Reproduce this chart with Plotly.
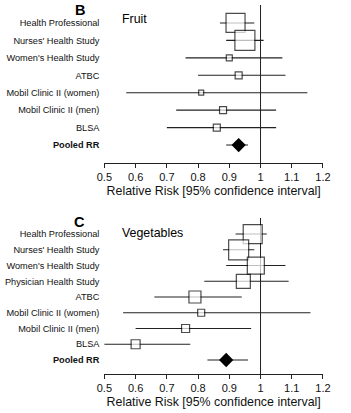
import plotly.graph_objects as go

W, H = 351, 413

# ---------------- data ----------------
fruit_studies = ["Health Professional", "Nurses' Health Study", "Women's Health Study", "ATBC",
                 "Mobil Clinic II (women)", "Mobil Clinic II (men)", "BLSA"]
fruit_rr = [0.92, 0.95, 0.90, 0.93, 0.81, 0.88, 0.86]
fruit_lo = [0.87, 0.89, 0.76, 0.80, 0.57, 0.73, 0.70]
fruit_hi = [0.98, 1.01, 1.07, 1.08, 1.15, 1.05, 1.05]
fruit_pooled = (0.93, 0.89, 0.96)

veg_studies = ["Health Professional", "Nurses' Health Study", "Women's Health Study", "Physician Health Study",
               "ATBC", "Mobil Clinic II (women)", "Mobil Clinic II (men)", "BLSA"]
veg_rr = [0.975, 0.93, 0.985, 0.945, 0.79, 0.81, 0.76, 0.60]
veg_lo = [0.92, 0.88, 0.89, 0.82, 0.66, 0.56, 0.60, 0.475]
veg_hi = [1.02, 0.98, 1.08, 1.09, 0.94, 1.16, 0.97, 0.775]
veg_pooled = (0.89, 0.83, 0.96)

x_ticks = [0.5, 0.6, 0.7, 0.8, 0.9, 1.0, 1.1, 1.2]
x_ticklabels = ["0.5", "0.6", "0.7", "0.8", "0.9", "1", "1.1", "1.2"]

# marker (box) sizes in px, proportional to study weight
fruit_box_px = [19, 20, 6, 7, 5, 7, 7]
veg_box_px = [19, 20, 17, 14, 12, 7, 8, 9]

FONT = "Liberation Sans, Arial, sans-serif"
LINE = "#222222"
TXT = "#111111"

fig = go.Figure()


def add_panel(studies, rr, lo, hi, pooled, sizes, xa, ya):
    n = len(studies)
    ys = list(range(n))
    fig.add_trace(go.Scatter(
        x=rr, y=ys, mode="markers", xaxis=xa, yaxis=ya, showlegend=False,
        marker=dict(symbol="square", size=sizes, color="white",
                    line=dict(color="black", width=1.2)),
        error_x=dict(type="data", symmetric=False,
                     array=[h - r for h, r in zip(hi, rr)],
                     arrayminus=[r - l for r, l in zip(rr, lo)],
                     width=0, thickness=1.1, color=LINE),
    ))
    p, pl, ph = pooled
    fig.add_trace(go.Scatter(
        x=[p], y=[n], mode="markers", xaxis=xa, yaxis=ya, showlegend=False,
        marker=dict(symbol="diamond", size=11, color="black", line=dict(width=0)),
        error_x=dict(type="data", symmetric=False, array=[ph - p], arrayminus=[p - pl],
                     width=0, thickness=1.1, color=LINE),
    ))
    return n


n1 = add_panel(fruit_studies, fruit_rr, fruit_lo, fruit_hi, fruit_pooled, fruit_box_px, "x", "y")
n2 = add_panel(veg_studies, veg_rr, veg_lo, veg_hi, veg_pooled, veg_box_px, "x2", "y2")

xdom = [101 / W, 330 / W]


def xaxis_cfg():
    return dict(domain=xdom, range=[0.5, 1.2], tickvals=x_ticks, ticktext=x_ticklabels,
                showgrid=False, zeroline=False, showline=True, linecolor=LINE, linewidth=1,
                ticks="outside", ticklen=4, tickcolor=LINE, tickwidth=1,
                tickfont=dict(family=FONT, size=11, color=TXT),
                title=dict(text="Relative Risk [95% confidence interval]",
                           font=dict(family=FONT, size=12.4, color=TXT), standoff=4))


def yaxis_cfg(labels, dom, rng):
    n = len(labels)
    return dict(domain=dom, range=rng, tickvals=list(range(n + 1)),
                ticktext=labels + ["<b>Pooled RR</b>"], showgrid=False, zeroline=False,
                showline=False, ticks="", ticklabelstandoff=4,
                tickfont=dict(family=FONT, size=9.2, color=TXT))


fig.update_layout(
    width=W, height=H, margin=dict(l=0, r=0, t=0, b=0),
    paper_bgcolor="white", plot_bgcolor="white",
    xaxis=dict(**xaxis_cfg(), anchor="y"),
    yaxis=dict(**yaxis_cfg(fruit_studies, [(H - 163) / H, (H - 5) / H], [n1 + 1.03, -1.03]), anchor="x"),
    xaxis2=dict(**xaxis_cfg(), anchor="y2"),
    yaxis2=dict(**yaxis_cfg(veg_studies, [(H - 374) / H, (H - 218) / H], [n2 + 0.89, -1.02]), anchor="x2"),
)

for xr, yr in (("x", "y domain"), ("x2", "y2 domain")):
    fig.add_shape(type="line", xref=xr, yref=yr, x0=1, x1=1, y0=0, y1=1,
                  line=dict(color=LINE, width=1), layer="below")

ann = [("<b>B</b>", 75, 10, 14.5), ("Fruit", 132.5, 19, 12.4),
       ("<b>C</b>", 75, 222, 14.5), ("Vegetables", 151.5, 233, 12.4)]
for t, px, py, fs in ann:
    fig.add_annotation(text=t, x=px / W, y=1 - py / H, xref="paper", yref="paper",
                       showarrow=False, xanchor="center", yanchor="middle",
                       font=dict(family=FONT, size=fs, color="black"))

fig.write_html("out.html")
